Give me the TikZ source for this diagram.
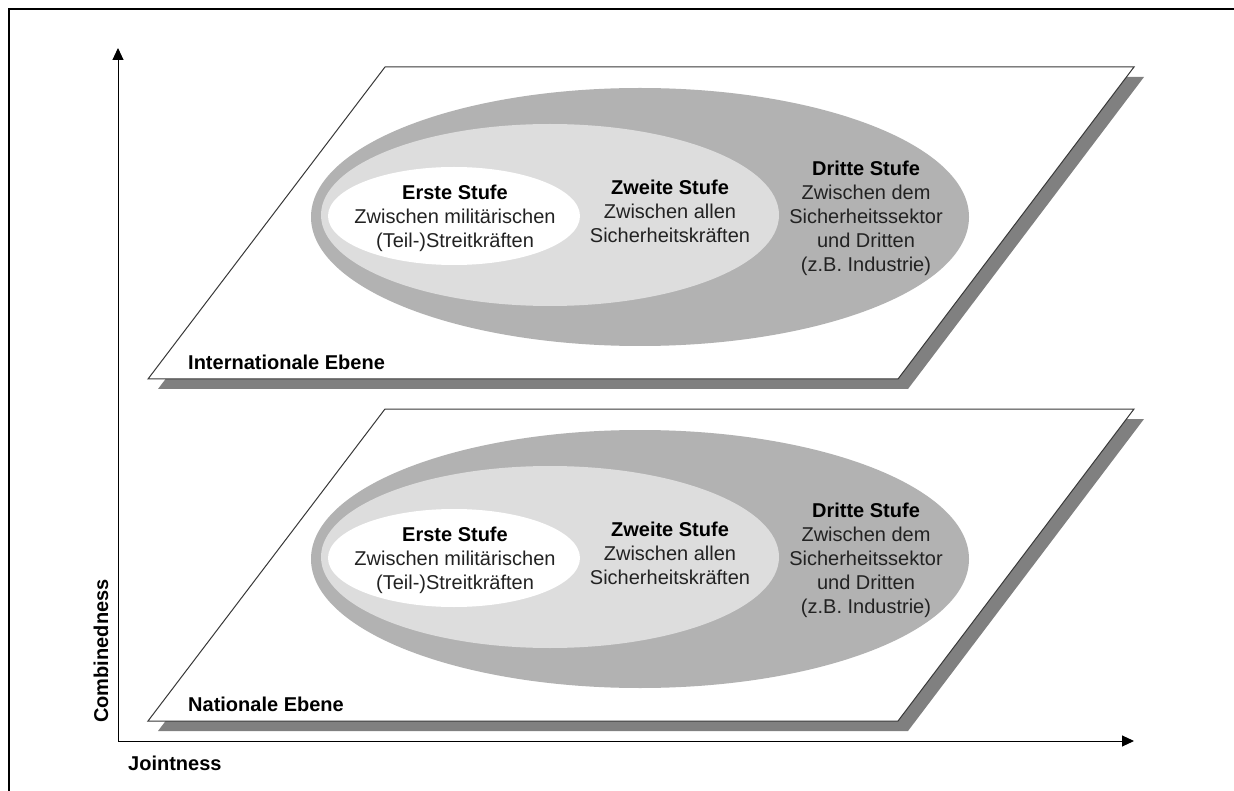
\documentclass[tikz,border=0pt]{standalone}
\usepackage{fontspec}
\setmainfont{Liberation Sans}
\usetikzlibrary{arrows.meta}
\definecolor{ringdark}{HTML}{B2B2B2}
\definecolor{ringlight}{HTML}{DDDDDD}
\definecolor{shadowgray}{HTML}{808080}
\definecolor{edgegray}{HTML}{383838}
\definecolor{bodytext}{HTML}{222222}
\tikzset{
  lvltext/.style={align=center, font=\fontsize{20}{24}\selectfont, text=bodytext, inner sep=0pt},
  planelabel/.style={anchor=west, font=\bfseries\fontsize{20}{24}\selectfont, inner sep=0pt},
  axislabel/.style={font=\bfseries\fontsize{20}{24}\selectfont, inner sep=0pt},
  axisarrow/.style={line width=1pt, -{Triangle[length=12pt,width=11pt]}},
  plane/.style={fill=white, draw=edgegray, line width=1pt},
  planeshadow/.style={fill=shadowgray},
}
\newcommand{\lvlhd}[1]{{\bfseries\color{black}#1}}
\begin{document}
\begin{tikzpicture}[x=1pt,y=-1pt]
\useasboundingbox (0,0) rectangle (1234,791);
% outer frame (left and top edges)
\draw[line width=2pt] (9.3,791) -- (9.3,9.3) -- (1234,9.3);

% the two levels
\foreach \dy/\lab/\nm in {0/Internationale Ebene/intl, 342/Nationale Ebene/natl}{
  \begin{scope}[shift={(0,\dy)}]
    \fill[planeshadow] (395,77) -- (1144,77) -- (908,389) -- (158,389) -- cycle;
    \draw[plane] (385,67) -- (1134,67) -- (898,379) -- (148,379) -- cycle;
    \fill[ringdark]  (640,217) ellipse [x radius=329pt, y radius=129pt];
    \fill[ringlight] (550,215) ellipse [x radius=229pt, y radius=91pt];
    \fill[white]     (454,216) ellipse [x radius=126pt, y radius=49pt];
    \node[lvltext] (erste-\nm) at (455,218.5)
      {\lvlhd{Erste Stufe}\\Zwischen militärischen\\(Teil-)Streitkräften};
    \node[lvltext] (zweite-\nm) at (670,211.5)
      {\lvlhd{Zweite Stufe}\\Zwischen allen\\Sicherheitskräften};
    \node[lvltext] (dritte-\nm) at (866,218.5)
      {\lvlhd{Dritte Stufe}\\Zwischen dem\\Sicherheitssektor\\und Dritten\\(z.B. Industrie)};
    \node[planelabel] (label-\nm) at (188,362) {\lab};
  \end{scope}
}

% axes
\coordinate (origin) at (118,741);
\coordinate (ytip) at (118,48);
\coordinate (xtip) at (1134,741);
\draw[axisarrow] (origin) -- (ytip);
\draw[axisarrow] (origin) -- (xtip);
\node[axislabel, anchor=west] (jointness) at (128,763) {Jointness};
\node[axislabel, rotate=90] (combinedness) at (101,651) {Combinedness};
\end{tikzpicture}
\end{document}
